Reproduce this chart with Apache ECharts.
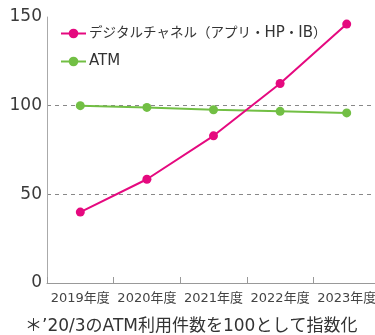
<!DOCTYPE html>
<html>
<head>
<meta charset="utf-8">
<script src="https://cdn.jsdelivr.net/npm/echarts@6/dist/echarts.min.js"></script>
<style>
html,body{margin:0;padding:0;background:#fff;overflow:hidden;width:375px;height:335px;}
#c{width:380px;height:335px;}
</style>
</head>
<body>
<div id="c"></div>
<script>
const categories = ['2019年度', '2020年度', '2021年度', '2022年度', '2023年度'];
const digitalValues = [40, 58.5, 83, 112.5, 146];
const atmValues = [100, 99, 97.7, 96.8, 95.9];
const yTicks = [0, 50, 100, 150];
const seriesNames = ['デジタルチャネル（アプリ・HP・IB）', 'ATM'];
const footnote = '＊’20/3のATM利用件数を100として指数化';

const FONT = '"DejaVu Sans", "Noto Sans CJK JP", sans-serif';
const PINK = '#E5097F';
const GREEN = '#72BF44';

const chart = echarts.init(document.getElementById('c'), null, {renderer: 'canvas'});
chart.setOption({
  animation: false,
  backgroundColor: '#fff',
  grid: {left: 47, top: 17, right: 0, height: 266, containLabel: false},
  legend: {
    orient: 'vertical',
    left: 55,
    top: 21,
    itemWidth: 25,
    itemHeight: 12,
    itemGap: 13,
    formatter: function (name) { return name.replace(/([A-Za-z]+)/g, '{l|$1}'); },
    textStyle: {
      fontFamily: FONT, fontSize: 13.5, color: '#333', padding: [0, 0, 0, -2],
      rich: {l: {fontFamily: FONT, fontSize: 15, color: '#333'}}
    },
    data: seriesNames
  },
  xAxis: {
    type: 'category',
    data: categories,
    boundaryGap: true,
    axisLine: {lineStyle: {color: '#999', width: 1}},
    axisTick: {show: true, inside: true, length: 6, interval: 0, lineStyle: {color: '#999'}},
    axisLabel: {fontFamily: FONT, fontSize: 13, color: '#444', margin: 9, interval: 0}
  },
  yAxis: {
    type: 'value',
    min: yTicks[0],
    max: yTicks[yTicks.length - 1],
    interval: yTicks[1] - yTicks[0],
    axisLine: {show: true, lineStyle: {color: '#aaa', width: 1}},
    axisTick: {show: false},
    axisLabel: {fontFamily: FONT, fontSize: 17, color: '#3a3a3a', margin: 5},
    splitLine: {show: true, lineStyle: {type: [4, 4], color: ['rgba(0,0,0,0)', '#888', '#888', 'rgba(0,0,0,0)'], width: 1}}
  },
  series: [
    {
      name: seriesNames[0],
      type: 'line',
      data: digitalValues,
      symbol: 'circle',
      symbolSize: 9,
      lineStyle: {color: PINK, width: 2},
      itemStyle: {color: PINK},
      z: 3
    },
    {
      name: seriesNames[1],
      type: 'line',
      data: atmValues,
      symbol: 'circle',
      symbolSize: 9,
      lineStyle: {color: GREEN, width: 2},
      itemStyle: {color: GREEN},
      z: 2
    }
  ],
  graphic: [
    {
      type: 'text',
      left: 25,
      top: 318,
      style: {text: footnote, font: '17px ' + FONT, fill: '#333'}
    }
  ]
});
</script>
</body>
</html>
